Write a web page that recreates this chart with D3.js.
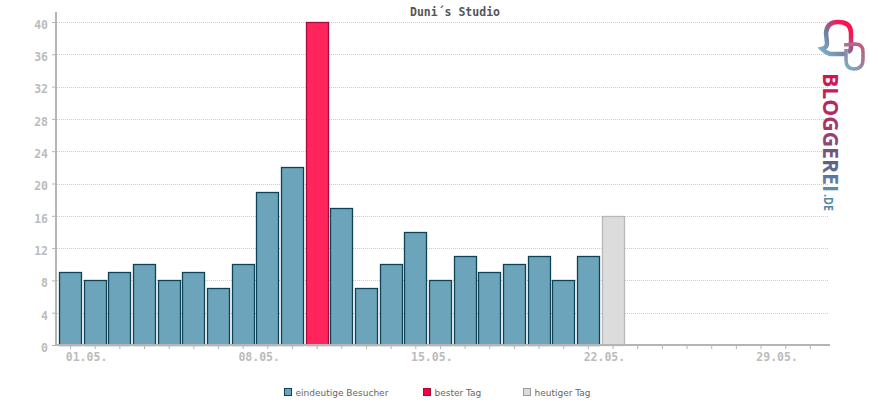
<!DOCTYPE html>
<html>
<head>
<meta charset="utf-8">
<script src="https://cdn.jsdelivr.net/npm/d3@7"></script>
<style>
	html, body { margin: 0; padding: 0; background: #fff; }
	svg { display: block; }
	text { font-family: "DejaVu Sans Mono", monospace; }
	.axis text { font-size: 11.5px; font-weight: bold; fill: #bcbcbc; }
	.legend text { font-family: "DejaVu Sans", sans-serif; font-size: 9px; fill: #666; }
</style>
</head>
<body>
<svg id="chart" width="870" height="400"></svg>
<script>
var title = "Duni´s Studio";
var days = ["01.05.","02.05.","03.05.","04.05.","05.05.","06.05.","07.05.","08.05.","09.05.","10.05.","11.05.","12.05.","13.05.","14.05.","15.05.","16.05.","17.05.","18.05.","19.05.","20.05.","21.05.","22.05.","23.05.","24.05.","25.05.","26.05.","27.05.","28.05.","29.05.","30.05.","31.05."];
var visitors = [9,8,9,10,8,9,7,10,19,22,40,17,7,10,14,8,11,9,10,11,8,11,16];
var bestIndex = 10;
var todayIndex = 22;
var xLabels = ["01.05.","08.05.","15.05.","22.05.","29.05."];
var yTicks = [0,4,8,12,16,20,24,28,32,36,40];
var legendLabels = ["eindeutige Besucher","bester Tag","heutiger Tag"];

var svg = d3.select("#chart");

var x = d3.scaleBand().domain(days).range([58.2, 822.7]).paddingInner(0.11).paddingOuter(0.055);
var y = d3.scaleLinear().domain([0, 40]).range([345, 22]);

function barFill(i) {
	if (i == bestIndex) return "#ff255c";
	if (i == todayIndex) return "#dcdcdc";
	return "#6ca4bb";
}

function barStroke(i) {
	if (i == bestIndex) return "#a80a3c";
	if (i == todayIndex) return "#b8b8b8";
	return "#0f4254";
}

// grid lines
svg.append("g")
	.selectAll("line")
	.data(yTicks.slice(1))
	.enter()
	.append("line")
	.attr("x1", 57)
	.attr("x2", 829)
	.attr("y1", function(d) { return Math.round(y(d)) + 0.5; })
	.attr("y2", function(d) { return Math.round(y(d)) + 0.5; })
	.attr("stroke", "#cccccc")
	.attr("stroke-dasharray", "1,1");

// bars
svg.append("g")
	.selectAll("rect")
	.data(visitors)
	.enter()
	.append("rect")
	.attr("x", function(d, i) { return Math.floor(x(days[i])) + 0.5; })
	.attr("y", function(d) { return Math.round(y(d)) + 0.5; })
	.attr("width", Math.round(x.bandwidth()))
	.attr("height", function(d) { return 345 - Math.round(y(d)); })
	.attr("fill", function(d, i) { return barFill(i); })
	.attr("stroke", function(d, i) { return barStroke(i); })
	.attr("stroke-width", 1.3);

// y axis
var yAxis = svg.append("g")
	.attr("class", "axis")
	.attr("transform", "translate(56,0)")
	.call(d3.axisLeft(y).tickValues(yTicks).tickSize(4).tickPadding(4));
yAxis.select(".domain").remove();
yAxis.selectAll("line").attr("stroke", "#b5b5b5");
yAxis.selectAll("text").attr("dy", "0.55em");
svg.append("line")
	.attr("x1", 56).attr("x2", 56)
	.attr("y1", 12).attr("y2", 346)
	.attr("stroke", "#b5b5b5")
	.attr("stroke-width", 2);

// x axis, labels sit to the right of their ticks
var xAxis = svg.append("g")
	.attr("class", "axis")
	.attr("transform", "translate(0,345)")
	.call(d3.axisBottom(x)
		.tickValues(days)
		.tickSize(4)
		.tickPadding(4)
		.tickFormat(function(d) { return xLabels.indexOf(d) >= 0 ? d : ""; }));
xAxis.select(".domain").remove();
xAxis.selectAll("line").attr("stroke", "#b5b5b5");
xAxis.selectAll("text").attr("dx", 16);
svg.append("line")
	.attr("x1", 55).attr("x2", 830)
	.attr("y1", 345).attr("y2", 345)
	.attr("stroke", "#b5b5b5")
	.attr("stroke-width", 2);

svg.append("text")
	.attr("x", 455)
	.attr("y", 16)
	.attr("text-anchor", "middle")
	.attr("font-size", "11.5px")
	.attr("font-weight", "bold")
	.attr("fill", "#555")
	.text(title);

// legend
var legendX = [284, 423, 523];
var legendFill = ["#6ca4bb", "#f5003f", "#dcdcdc"];
var legendStroke = ["#0f4254", "#a80a3c", "#9a9a9a"];
var legend = svg.append("g").attr("class", "legend");
legendLabels.forEach(function(label, i) {
	legend.append("rect")
		.attr("x", legendX[i] + 0.5)
		.attr("y", 388.5)
		.attr("width", 7)
		.attr("height", 7)
		.attr("fill", legendFill[i])
		.attr("stroke", legendStroke[i]);
	legend.append("text")
		.attr("x", legendX[i] + 11.5)
		.attr("y", 395.5)
		.text(label);
});

// logo
var defs = svg.append("defs");
function gradient(id, x1, y1, x2, y2, stops) {
	var g = defs.append("linearGradient")
		.attr("id", id)
		.attr("gradientUnits", "userSpaceOnUse")
		.attr("x1", x1).attr("y1", y1).attr("x2", x2).attr("y2", y2);
	stops.forEach(function(s) {
		g.append("stop").attr("offset", s[0]).attr("stop-color", s[1]);
	});
}
gradient("logoA", 822, 55, 852, 25, [[0, "#7fb4c8"], [0.45, "#6c7f9f"], [0.8, "#ee1c56"], [1, "#ff0f4c"]]);
gradient("logoB", 846, 65, 864, 45, [[0, "#7aa9bf"], [0.6, "#a9708f"], [1, "#c25a80"]]);

// the box of the rotated text runs along its own x, so the gradient does too
var glyphs = defs.append("linearGradient").attr("id", "logoGlyph");
[[0, "#d3134f"], [0.5, "#a03a70"], [0.75, "#5f5f8a"], [1, "#5c90ae"]].forEach(function(s) {
	glyphs.append("stop").attr("offset", s[0]).attr("stop-color", s[1]);
});

svg.append("path")
	.attr("d", "M846 54 L830 54 Q826 53 822 49 Q827 48 827 43 L826 33 Q827 22 838 22 Q851 22 851 33 L851 47 Q851 51 848 52")
	.attr("fill", "none")
	.attr("stroke", "url(#logoA)")
	.attr("stroke-width", 4.5);
svg.append("path")
	.attr("d", "M844 45 L855 44 Q863 44 863 52 L863 59 Q863 69 854 69 Q846 69 846 60 L846 49")
	.attr("fill", "none")
	.attr("stroke", "url(#logoB)")
	.attr("stroke-width", 3.5);

svg.append("text")
	.attr("transform", "translate(823,73) rotate(90)")
	.attr("font-size", "22px")
	.attr("font-weight", "bold")
	.attr("fill", "url(#logoGlyph)")
	.attr("textLength", 119)
	.attr("lengthAdjust", "spacingAndGlyphs")
	.style("font-family", "'Open Sans', sans-serif")
	.text("BLOGGEREI");
svg.append("text")
	.attr("transform", "translate(824,194) rotate(90)")
	.attr("font-size", "13px")
	.attr("font-weight", "bold")
	.attr("fill", "#5587a6")
	.attr("textLength", 17)
	.attr("lengthAdjust", "spacingAndGlyphs")
	.style("font-family", "'Open Sans', sans-serif")
	.text(".DE");
</script>
</body>
</html>
